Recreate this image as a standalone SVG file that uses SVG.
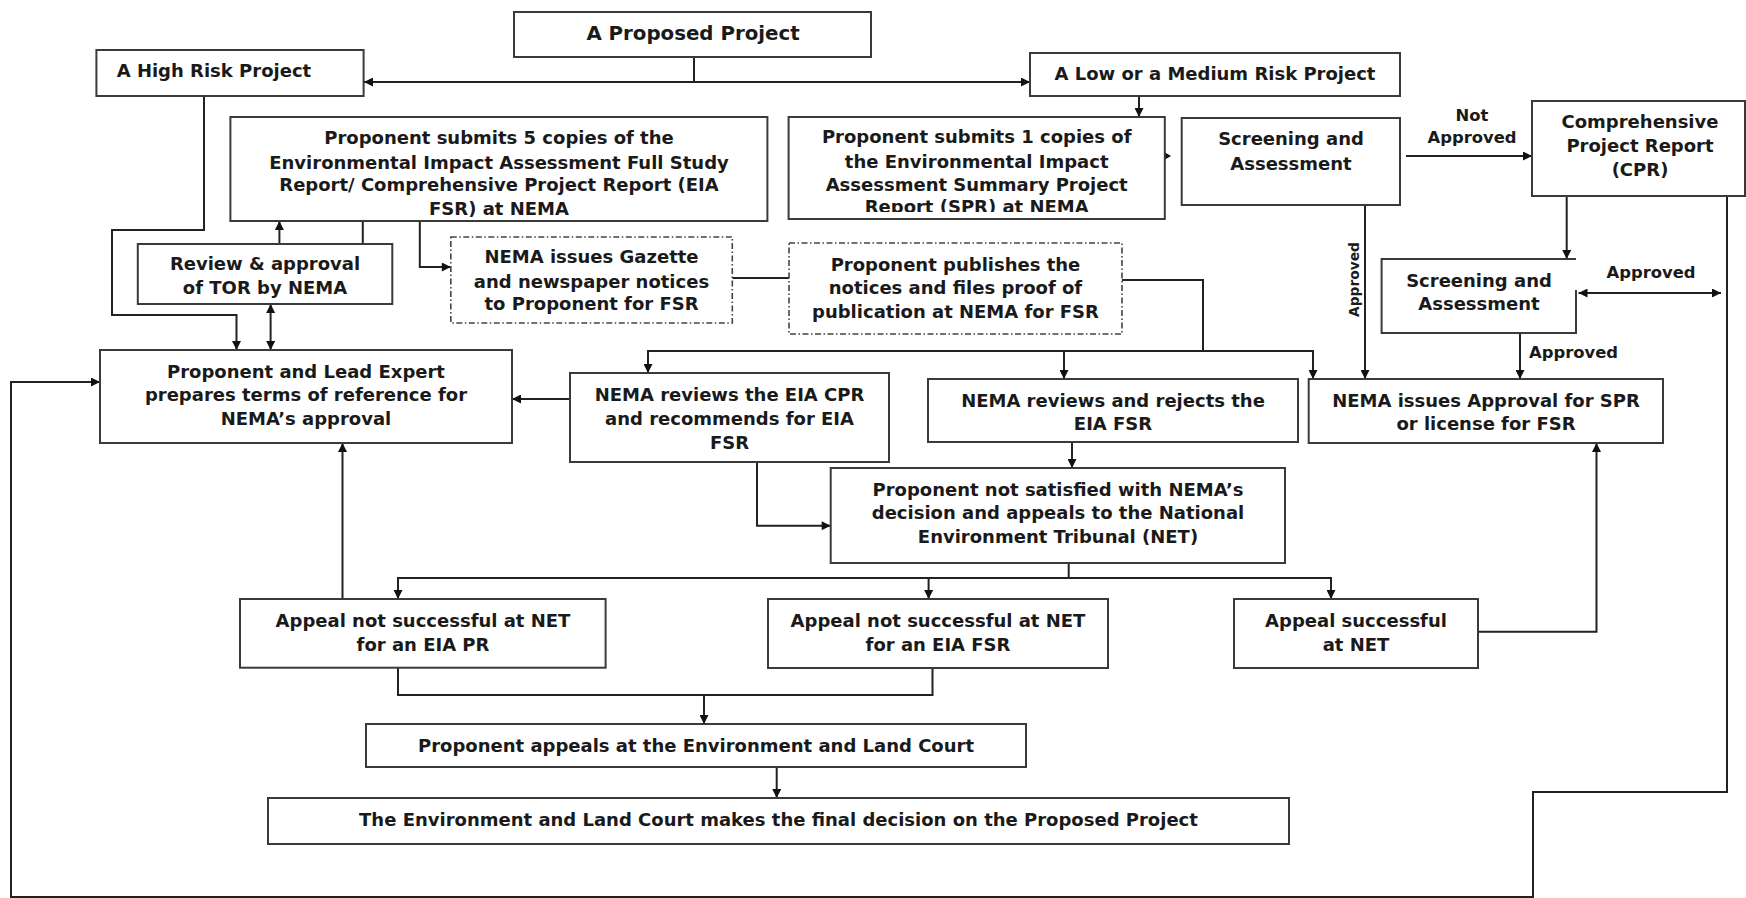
<svg xmlns="http://www.w3.org/2000/svg" width="1746" height="898" viewBox="0 0 1746 898">
<style>
.box{fill:#fff;stroke:#3a3a3a;stroke-width:2}
.dash{fill:#fff;stroke:#444;stroke-width:1.6;stroke-dasharray:6 2.5 1.5 2.5}
.t{font-family:"DejaVu Sans",sans-serif;font-weight:bold;font-size:18px;fill:#1a1a1a;text-anchor:middle}
.lbl{font-family:"DejaVu Sans",sans-serif;font-weight:bold;font-size:16.4px;fill:#1a1a1a;text-anchor:middle}
.c{fill:none;stroke:#222;stroke-width:2}
.a{marker-end:url(#ah)}
.aa{marker-start:url(#ah);marker-end:url(#ah)}
</style>
<defs>
<marker id="ah" viewBox="0 0 10 10" refX="10" refY="5" markerWidth="10" markerHeight="9" markerUnits="userSpaceOnUse" orient="auto-start-reverse"><path d="M0,0 L10,5 L0,10 z" fill="#111"/></marker>
<clipPath id="spr-clip"><rect x="788" y="116" width="378" height="96"/></clipPath>
</defs>
<rect width="1746" height="898" fill="#fff"/>

<g id="connectors">
<path class="c" d="M694,57 V82"/>
<path class="c aa" d="M364,82 H1030"/>
<path class="c a" d="M1139,96 V117"/>
<polygon points="1165,152.5 1171,156 1165,159.5" fill="#111"/>
<path class="c a" d="M1406,156 H1532"/>
<path class="c a" d="M1566.7,196 V259"/>
<path class="c aa" d="M1578.5,293 H1721"/>
<path class="c a" d="M1727,196 V792 H1533 V897 H11 V382 H100"/>
<path class="c a" d="M1365,205 V379"/>
<path class="c a" d="M1520,333 V379"/>
<path class="c a" d="M204,96 V230 H112 V315 H236.5 V350"/>
<path class="c a" d="M279.4,244 V221"/>
<path class="c" d="M362.8,221 V244"/>
<path class="c a" d="M419.8,221 V267 H450.8"/>
<path class="c aa" d="M270.6,304 V350"/>
<path class="c" d="M732.3,278 H789"/>
<path class="c" d="M1122,280 H1203 V351"/>
<path class="c a" d="M1203,351 H648 V373"/>
<path class="c a" d="M1064,351 V379"/>
<path class="c a" d="M1203,351 H1313 V379"/>
<path class="c a" d="M570,399 H512"/>
<path class="c a" d="M757,462 V525.7 H830.7"/>
<path class="c a" d="M1072,442 V468"/>
<path class="c" d="M1068.7,563 V578"/>
<path class="c a" d="M1068.7,578 H398 V599"/>
<path class="c a" d="M928.6,578 V599"/>
<path class="c a" d="M1068.7,578 H1331 V599"/>
<path class="c a" d="M342.5,599 V443"/>
<path class="c" d="M398,668 V695 H932.5 V668"/>
<path class="c a" d="M704,695 V724"/>
<path class="c a" d="M776.7,767 V798"/>
<path class="c a" d="M1478,631.7 H1596.5 V443"/>
</g>

<g id="labels">
<text class="lbl" x="1472" y="121">Not</text>
<text class="lbl" x="1472" y="143">Approved</text>
<text class="lbl" x="1651" y="278">Approved</text>
<text class="lbl" x="1529" y="358" style="text-anchor:start">Approved</text>
<text class="lbl" style="font-size:13.8px" transform="translate(1359,279.5) rotate(-90)">Approved</text>
</g>

<g id="n-proposed">
<rect class="box" x="514" y="12" width="357" height="45"/>
<text class="t" x="693" y="40" style="font-size:19.8px">A Proposed Project</text>
</g>
<g id="n-high">
<rect class="box" x="96.4" y="50" width="267.2" height="46"/>
<text class="t" x="116.7" y="76.5" style="text-anchor:start">A High Risk Project</text>
</g>
<g id="n-low">
<rect class="box" x="1030" y="53" width="370" height="43"/>
<text class="t" x="1215" y="79.5">A Low or a Medium Risk Project</text>
</g>
<g id="n-fsr">
<rect class="box" x="230.4" y="117" width="537" height="104"/>
<text class="t" x="499" y="143.5">Proponent submits 5 copies of the</text>
<text class="t" x="499" y="168.5">Environmental Impact Assessment Full Study</text>
<text class="t" x="499" y="190.5">Report/ Comprehensive Project Report (EIA</text>
<text class="t" x="499" y="214.5">FSR) at NEMA</text>
</g>
<g id="n-spr">
<rect class="box" x="788.6" y="117" width="376.2" height="102"/>
<g clip-path="url(#spr-clip)">
<text class="t" x="976.7" y="143.2">Proponent submits 1 copies of</text>
<text class="t" x="976.7" y="168.2">the Environmental Impact</text>
<text class="t" x="976.7" y="190.8">Assessment Summary Project</text>
<text class="t" x="976.7" y="213.2">Report (SPR) at NEMA</text>
</g>
</g>
<g id="n-screen1">
<rect class="box" x="1181.7" y="118" width="218.3" height="87"/>
<text class="t" x="1291" y="144.5">Screening and</text>
<text class="t" x="1291" y="169.5">Assessment</text>
</g>
<g id="n-cpr">
<rect class="box" x="1532" y="101" width="213" height="95"/>
<text class="t" x="1640" y="128">Comprehensive</text>
<text class="t" x="1640" y="151.5">Project Report</text>
<text class="t" x="1640" y="175.5">(CPR)</text>
</g>
<g id="n-screen2">
<rect x="1381.6" y="259" width="194.4" height="74" fill="#fff"/>
<path class="box" style="fill:none" d="M1576,290 V333 H1381.6 V259 H1576"/>
<text class="t" x="1479" y="286.5">Screening and</text>
<text class="t" x="1479" y="309.5">Assessment</text>
</g>
<g id="n-review">
<rect class="box" x="137.8" y="244" width="254.5" height="60"/>
<text class="t" x="265" y="269.5">Review &amp; approval</text>
<text class="t" x="265" y="293.5">of TOR by NEMA</text>
</g>
<g id="n-gazette">
<rect class="dash" x="450.8" y="237" width="281.5" height="86"/>
<text class="t" x="591.5" y="263.2">NEMA issues Gazette</text>
<text class="t" x="591.5" y="288.2">and newspaper notices</text>
<text class="t" x="591.5" y="309.8">to Proponent for FSR</text>
</g>
<g id="n-publish">
<rect class="dash" x="789" y="243" width="333" height="91"/>
<text class="t" x="955.5" y="270.5">Proponent publishes the</text>
<text class="t" x="955.5" y="293.5">notices and files proof of</text>
<text class="t" x="955.5" y="317.5">publication at NEMA for FSR</text>
</g>
<g id="n-lead">
<rect class="box" x="100" y="350" width="412" height="93"/>
<text class="t" x="306" y="377.5">Proponent and Lead Expert</text>
<text class="t" x="306" y="400.5">prepares terms of reference for</text>
<text class="t" x="306" y="424.5">NEMA’s approval</text>
</g>
<g id="n-nemacpr">
<rect class="box" x="570" y="373" width="319" height="89"/>
<text class="t" x="729.5" y="400.5">NEMA reviews the EIA CPR</text>
<text class="t" x="729.5" y="424.5">and recommends for EIA</text>
<text class="t" x="729.5" y="448.5">FSR</text>
</g>
<g id="n-reject">
<rect class="box" x="928" y="379" width="370" height="63"/>
<text class="t" x="1113" y="406.5">NEMA reviews and rejects the</text>
<text class="t" x="1113" y="429.5">EIA FSR</text>
</g>
<g id="n-approval">
<rect class="box" x="1308.7" y="379" width="354.3" height="64"/>
<text class="t" x="1486" y="406.5">NEMA issues Approval for SPR</text>
<text class="t" x="1486" y="429.5">or license for FSR</text>
</g>
<g id="n-notsat">
<rect class="box" x="830.7" y="468" width="454.3" height="95"/>
<text class="t" x="1058" y="495.5">Proponent not satisfied with NEMA’s</text>
<text class="t" x="1058" y="518.5">decision and appeals to the National</text>
<text class="t" x="1058" y="542.5">Environment Tribunal (NET)</text>
</g>
<g id="n-appeal-pr">
<rect class="box" x="240" y="599" width="365.6" height="68.7"/>
<text class="t" x="423" y="626.5">Appeal not successful at NET</text>
<text class="t" x="423" y="650.5">for an EIA PR</text>
</g>
<g id="n-appeal-fsr">
<rect class="box" x="768" y="599" width="340" height="69"/>
<text class="t" x="938" y="626.5">Appeal not successful at NET</text>
<text class="t" x="938" y="650.5">for an EIA FSR</text>
</g>
<g id="n-appeal-ok">
<rect class="box" x="1234" y="599" width="244" height="69"/>
<text class="t" x="1356" y="626.5">Appeal successful</text>
<text class="t" x="1356" y="650.5">at NET</text>
</g>
<g id="n-court">
<rect class="box" x="366" y="724" width="660" height="43"/>
<text class="t" x="696" y="752">Proponent appeals at the Environment and Land Court</text>
</g>
<g id="n-final">
<rect class="box" x="268" y="798" width="1021" height="46"/>
<text class="t" x="778.5" y="825.5">The Environment and Land Court makes the final decision on the Proposed Project</text>
</g>
</svg>
